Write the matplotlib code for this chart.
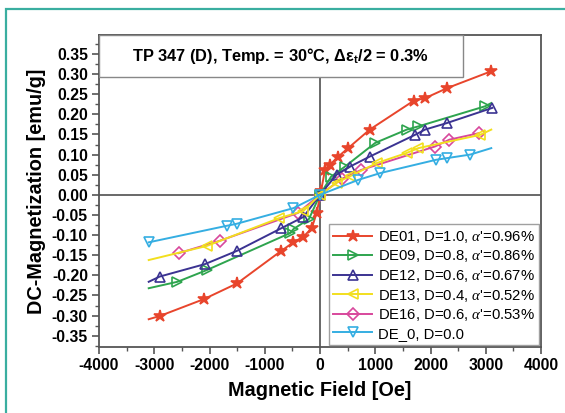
import matplotlib
matplotlib.use("Agg")
import matplotlib.pyplot as plt
from matplotlib.patches import Rectangle
from matplotlib.ticker import MultipleLocator, FormatStrFormatter

plt.rcParams['font.family'] = ['Liberation Sans', 'DejaVu Sans']
plt.rcParams['mathtext.fontset'] = 'custom'
plt.rcParams['mathtext.rm'] = 'Liberation Sans'
plt.rcParams['mathtext.bf'] = 'Liberation Sans:bold'
plt.rcParams['mathtext.it'] = 'Liberation Serif:italic'
plt.rcParams['axes.unicode_minus'] = False

# Magnetic field [Oe] and DC magnetization [emu/g] for each specimen
de01_h = [-3100, -2900, -2100, -1500, -700, -480, -300, -150, -60, 20, 90, 180, 330, 510, 900, 1700, 1900, 2300, 3100]
de01_m = [-0.309, -0.301, -0.259, -0.220, -0.139, -0.118, -0.104, -0.083, -0.045, 0.010, 0.062, 0.075, 0.095, 0.116, 0.162, 0.234, 0.240, 0.265, 0.307]

de09_h = [-3100, -2580, -2050, -540, -480, -200, 0, 200, 450, 1000, 1570, 1780, 2990, 3100]
de09_m = [-0.232, -0.216, -0.187, -0.095, -0.085, -0.060, 0.000, 0.045, 0.070, 0.129, 0.162, 0.170, 0.220, 0.228]

de12_h = [-3100, -2900, -2080, -1500, -700, -300, 0, 300, 540, 900, 1720, 1900, 2290, 3120]
de12_m = [-0.216, -0.203, -0.172, -0.139, -0.083, -0.055, 0.000, 0.050, 0.070, 0.095, 0.149, 0.162, 0.178, 0.216]

de13_h = [-3100, -2050, -740, -300, 0, 300, 540, 1030, 1570, 1780, 2900, 3100]
de13_m = [-0.162, -0.127, -0.058, -0.040, 0.000, 0.030, 0.046, 0.079, 0.104, 0.116, 0.149, 0.162]

de16_h = [-2560, -1810, -400, 0, 400, 750, 2080, 2340, 2870]
de16_m = [-0.145, -0.114, -0.045, 0.000, 0.040, 0.062, 0.120, 0.137, 0.153]

de0_h = [-3100, -1690, -1510, -480, 0, 690, 1090, 2100, 2290, 2720, 3100]
de0_m = [-0.118, -0.077, -0.072, -0.033, 0.000, 0.037, 0.054, 0.087, 0.091, 0.100, 0.116]

labels = [
    "DE01, D=1.0, $\\alpha$'=0.96%",
    "DE09, D=0.8, $\\alpha$'=0.86%",
    "DE12, D=0.6, $\\alpha$'=0.67%",
    "DE13, D=0.4, $\\alpha$'=0.52%",
    "DE16, D=0.6, $\\alpha$'=0.53%",
    "DE_0, D=0.0",
]

x_ticks = [-4000, -3000, -2000, -1000, 0, 1000, 2000, 3000, 4000]

fig = plt.figure(figsize=(5.65, 4.13), dpi=100)
fig.patch.set_facecolor('white')

# teal frame around the figure
fig.patches.append(Rectangle((5.5 / 565, -0.1), 1.2, 1 - 8.5 / 413 + 0.1,
                             transform=fig.transFigure, fill=False,
                             edgecolor='#3aaea0', linewidth=1.6))

ax = fig.add_axes([99 / 565, 1 - 347 / 413, 442 / 565, 312 / 413])

series = [
    (de01_h, de01_m, '#e8452c', '*', labels[0], list(range(1, len(de01_h))), True, 4),
    (de09_h, de09_m, '#2ea44e', '>', labels[1], list(range(1, 13)), False, 4),
    (de12_h, de12_m, '#3b3392', '^', labels[2], list(range(1, len(de12_h))), False, 4),
    (de13_h, de13_m, '#f2df1e', '<', labels[3], list(range(1, 11)), False, 4),
    (de16_h, de16_m, '#d8489c', 'D', labels[4], list(range(len(de16_h))), False, 3),
    (de0_h, de0_m, '#35aee2', 'v', labels[5], list(range(0, len(de0_h) - 1)), False, 4),
]

for h, m, c, mk, lab, every, filled, z in series:
    ax.plot(h, m, color=c, marker=mk, markevery=every, label=lab,
            linewidth=1.4, markersize=9 if mk == '*' else 7.5 if mk != 'D' else 6,
            markerfacecolor=c if filled else 'none', markeredgecolor=c,
            markeredgewidth=1.2, zorder=z)

ax.axhline(0, color='#404040', linewidth=1.1, zorder=1)
ax.axvline(0, color='#404040', linewidth=1.1, zorder=1)

ax.set_xlim(-4000, 4000)
ax.set_ylim(-0.378, 0.397)
ax.set_xticks(x_ticks)
ax.xaxis.set_minor_locator(MultipleLocator(500))
ax.yaxis.set_minor_locator(MultipleLocator(0.025))
ax.set_yticks([v / 100 for v in range(-35, 40, 5)])
ax.yaxis.set_major_formatter(FormatStrFormatter('%.2f'))

for sp in ax.spines.values():
    sp.set_color('#555555')
    sp.set_linewidth(1.3)
ax.tick_params(which='major', direction='out', length=5, width=1.2, color='#555555',
               labelsize=11.3, pad=3)
ax.tick_params(which='minor', direction='out', length=3, width=1.0, color='#555555')
for lbl in ax.get_xticklabels() + ax.get_yticklabels():
    lbl.set_fontweight('bold')

ax.set_xlabel('Magnetic Field [Oe]', fontsize=14.3, fontweight='bold', labelpad=6)
ax.set_ylabel('DC-Magnetization [emu/g]', fontsize=14.3, fontweight='bold', labelpad=4)

# heading box inside the axes
ax.add_patch(Rectangle((0, 0.865), 0.823, 0.135, transform=ax.transAxes,
                       facecolor='white', edgecolor='#888888', linewidth=1.0, zorder=6))
ax.text(0.4115, 0.932, 'TP 347 (D), Temp. = 30°C, Δε$_\\mathbf{t}$/2 = 0.3%',
        transform=ax.transAxes, ha='center', va='center', fontsize=11.8,
        fontweight='bold', zorder=7)

leg = ax.legend(loc='lower right', bbox_to_anchor=(0.996, 0.006), fontsize=10.7,
                frameon=True, fancybox=False, edgecolor='#888888',
                handlelength=2.6, handletextpad=0.4, labelspacing=0.24,
                borderpad=0.3, borderaxespad=0)
leg.get_frame().set_linewidth(1.0)
leg.set_zorder(8)

fig.savefig('out.png', dpi=100, facecolor='white')
